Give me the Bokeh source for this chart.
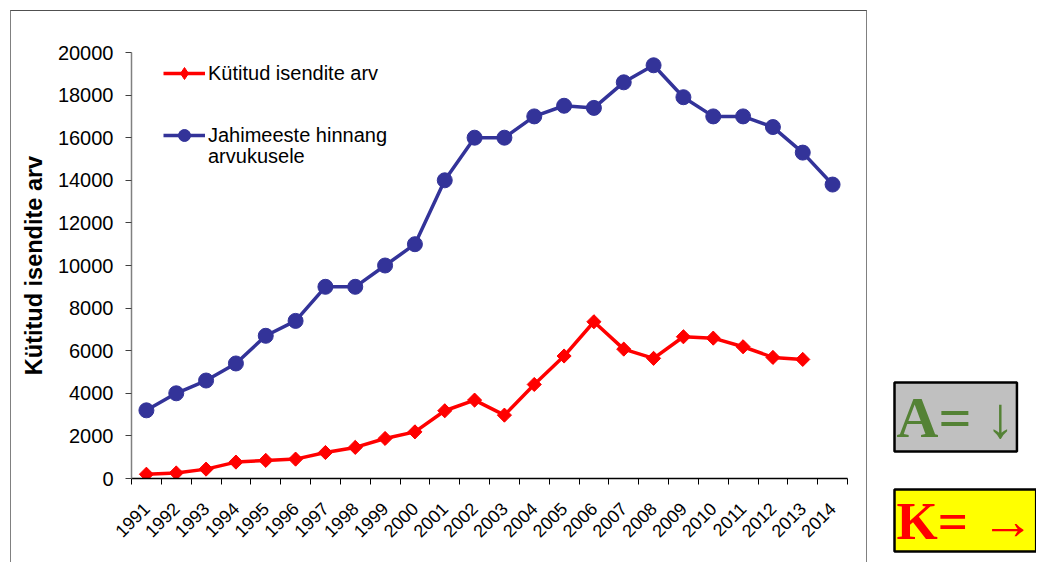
import math
from bokeh.plotting import figure
from bokeh.layouts import row
from bokeh.models import FixedTicker, Range1d, Legend, LegendItem, Label
from bokeh.embed import file_html
from bokeh.resources import INLINE

years = list(range(1991, 2015))
kytitud = [200, 260, 440, 770, 850, 910, 1220, 1460, 1880, 2190, 3180, 3680,
           2975, 4415, 5750, 7360, 6075, 5640, 6655, 6590, 6185, 5685, 5590]
hinnang = [3200, 4000, 4600, 5400, 6700, 7400, 9000, 9000, 10000, 11000, 14000,
           16000, 16000, 17000, 17500, 17400, 18600, 19400, 17900, 17000, 17000,
           16500, 15300, 13800]
y_ticks = list(range(0, 20001, 2000))
y_title = "Kütitud isendite arv"
label_red = "Kütitud isendite arv"
label_blue_1 = "Jahimeeste hinnang"
label_blue_2 = "arvukusele"
box_a = "A= ↓"
box_k = "K= →"

FONT = "Liberation Sans"
RED = "#FF0000"
BLUE = "#333399"

p = figure(width=857, height=552, output_backend="svg", toolbar_location=None,
           x_range=Range1d(years[0] - 0.5, years[-1] + 0.5),
           y_range=Range1d(0, 20000), margin=(10, 0, 0, 10),
           styles={"border-top": "1.5px solid #505050",
                   "border-left": "1.5px solid #808080",
                   "border-right": "1.5px solid #808080"})
p.frame_align = False
p.min_border_left = 120
p.min_border_right = 21
p.min_border_top = 41
p.min_border_bottom = 85
p.outline_line_color = None
p.xgrid.visible = False
p.ygrid.visible = False

# axes
xa = p.xaxis[0]
xa.ticker = FixedTicker(ticks=years,
                        minor_ticks=[y - 0.5 for y in years] + [years[-1] + 0.5])
xa.major_tick_out = 0
xa.major_tick_in = 0
xa.minor_tick_out = 6
xa.minor_tick_in = 0
xa.minor_tick_line_color = "black"
xa.axis_line_color = "black"
xa.axis_line_width = 1.5
xa.major_label_orientation = math.pi / 4
xa.major_label_text_font = FONT
xa.major_label_text_font_size = "18px"
xa.major_label_text_color = "black"
xa.major_label_standoff = 21

ya = p.yaxis[0]
ya.ticker = FixedTicker(ticks=y_ticks)
ya.major_tick_out = 6
ya.major_tick_in = 0
ya.minor_tick_out = 0
ya.minor_tick_in = 0
ya.axis_line_color = "#808080"
ya.axis_line_width = 1.5
ya.major_tick_line_color = "#404040"
ya.major_label_text_font = FONT
ya.major_label_text_font_size = "20px"
ya.major_label_text_color = "black"
ya.major_label_standoff = 12
ya.axis_label = y_title
ya.axis_label_text_font = FONT
ya.axis_label_text_font_style = "bold"
ya.axis_label_text_font_size = "23.5px"
ya.axis_label_text_color = "black"
ya.axis_label_standoff = 8

# series
rl = p.line(years[:len(kytitud)], kytitud, line_color=RED, line_width=3.5)
r_leg = p.scatter(years[:len(kytitud)], kytitud, marker="diamond", size=13,
                  fill_color=RED, line_color=RED)
rm = p.scatter(years[:len(kytitud)], kytitud, marker="square", angle=math.pi / 4,
               size=10, fill_color=RED, line_color=RED)
bl = p.line(years, hinnang, line_color=BLUE, line_width=3.5)
bm = p.scatter(years, hinnang, marker="circle", size=15,
               fill_color=BLUE, line_color=BLUE)
blank = p.line(x=[], y=[], line_alpha=0)


def make_legend(items, loc, gh):
    lg = Legend(items=items, location=loc)
    lg.border_line_alpha = 0
    lg.background_fill_alpha = 0
    lg.padding = 0
    lg.margin = 0
    lg.spacing = 0
    lg.glyph_width = 42
    lg.glyph_height = gh
    lg.label_height = gh
    lg.label_standoff = 3
    lg.label_text_font = FONT
    lg.label_text_font_size = "20px"
    lg.label_text_color = "black"
    p.add_layout(lg, "center")
    return lg


make_legend([LegendItem(label=label_red, renderers=[rl, r_leg])], (32, 390), 30)
make_legend([LegendItem(label=label_blue_1, renderers=[bl, bm])], (32, 328), 30)
make_legend([LegendItem(label=label_blue_2, renderers=[blank])], (32, 310), 20)

# side panel with the two boxes
s = figure(width=169, height=563, output_backend="svg", toolbar_location=None,
           x_range=Range1d(0, 1), y_range=Range1d(0, 1), min_border=0,
           x_axis_location=None, y_axis_location=None)
s.frame_align = False
s.grid.visible = False
s.outline_line_color = None

s.add_layout(Label(x=27, y=181, x_units="screen", y_units="screen",
                   text=box_a, text_font="Liberation Serif", text_font_style="bold",
                   text_font_size="58px", text_color="#548235",
                   text_align="left", text_baseline="top",
                   background_fill_color="#C0C0C0", border_line_color="black",
                   border_line_width=2.5, padding=2))
s.add_layout(Label(x=27, y=74, x_units="screen", y_units="screen",
                   text=box_k, text_font="Liberation Serif", text_font_style="bold",
                   text_font_size="53px", text_color=RED,
                   text_align="left", text_baseline="top",
                   background_fill_color="#FFFF00", border_line_color="black",
                   border_line_width=2.5, padding=2))

layout = row(p, s)
open("out.html", "w").write(file_html(layout, INLINE))
